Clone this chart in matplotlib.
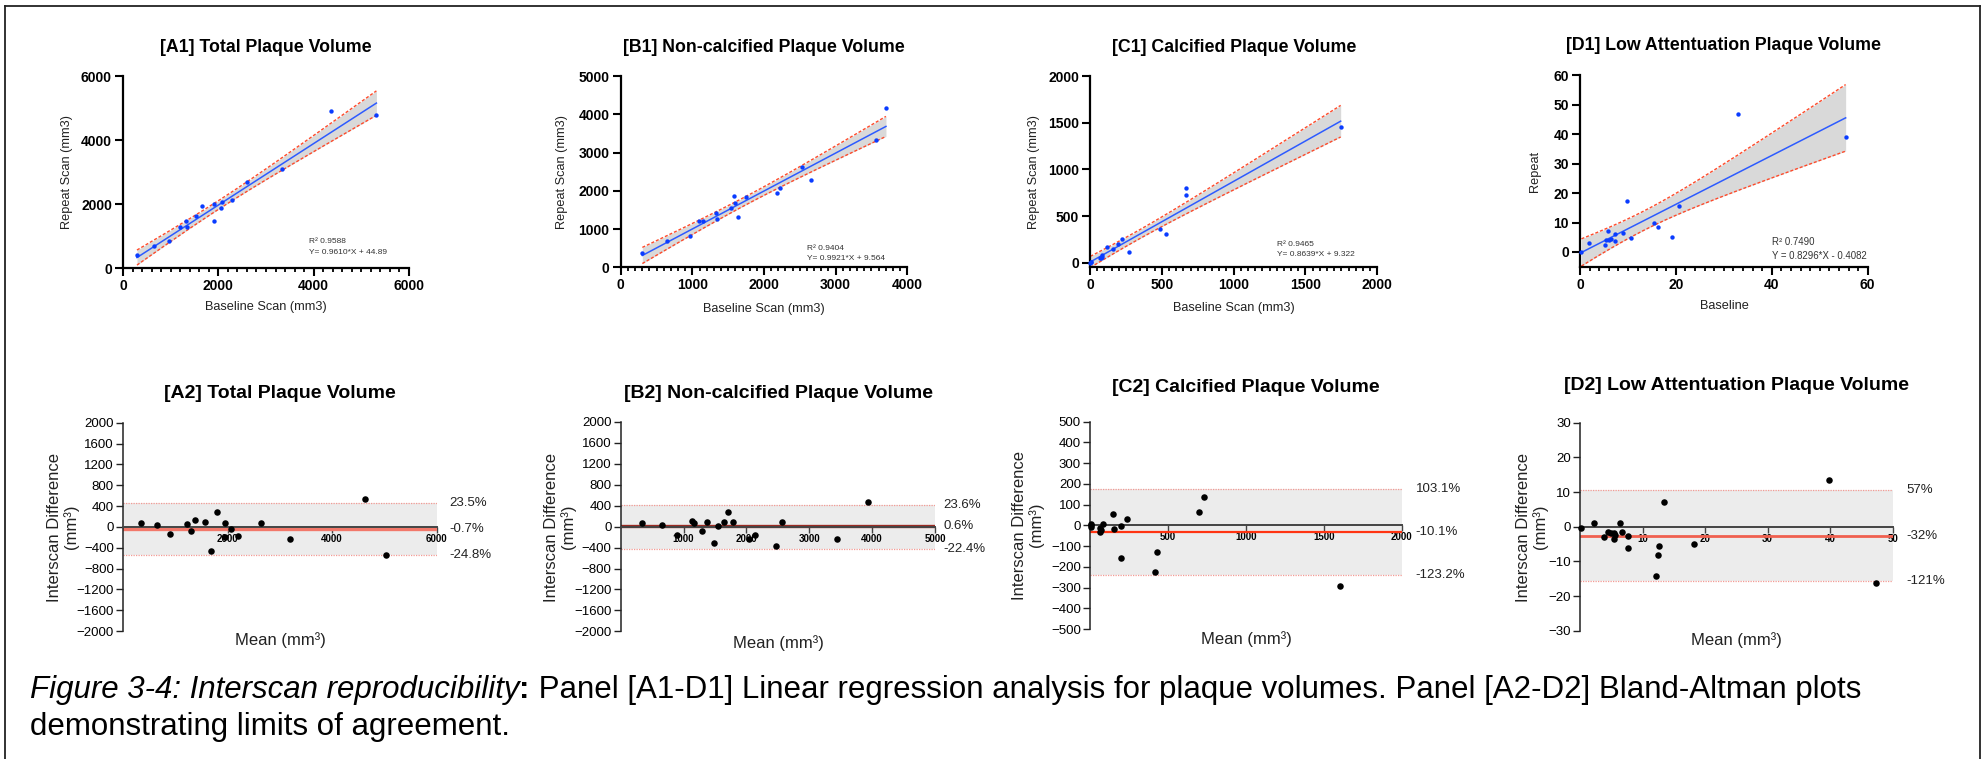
import matplotlib.pyplot as plt
import matplotlib.transforms as mtransforms
from matplotlib.lines import Line2D
import numpy as np

plt.rcParams['font.family'] = ['Liberation Sans', 'DejaVu Sans']

# ---- values ----
# [A1] total plaque volume (mm3)
a1_base = [293, 642, 970, 1200, 1312, 1340, 1528, 1653, 1905, 1905, 2065, 2079, 2295, 2602, 3328, 4361, 5316]
a1_repeat = [396, 688, 845, 1283, 1471, 1283, 1627, 1950, 2003, 1471, 1877, 2065, 2117, 2691, 3087, 4913, 4777]
# [B1] non-calcified plaque volume
b1_base = [302, 647, 967, 1093, 1149, 1330, 1344, 1540, 1581, 1591, 1637, 1753, 2186, 2223, 2525, 2660, 3567, 3702]
b1_repeat = [366, 679, 819, 1202, 1220, 1429, 1272, 1559, 1855, 1690, 1324, 1838, 1951, 2065, 2622, 2282, 3319, 4173]
# [C1] calcified plaque volume
c1_base = [3, 5, 8, 72, 77, 81, 85, 118, 162, 197, 225, 274, 490, 527, 666, 666, 1745]
c1_repeat = [2, 7, 12, 50, 57, 86, 60, 171, 150, 200, 257, 118, 367, 307, 802, 731, 1455]
# [D1] low attenuation plaque volume
d1_base = [0.3, 1.9, 5.3, 5.4, 5.9, 6.0, 6.5, 7.2, 7.4, 9.0, 9.9, 10.6, 15.4, 16.3, 19.2, 20.7, 33.0, 55.4]
d1_repeat = [0.1, 3.2, 2.4, 4.0, 7.1, 4.2, 4.5, 3.7, 6.0, 6.3, 17.2, 4.7, 9.9, 8.5, 5.1, 15.7, 46.7, 39.2]

# regression results printed on the panels
reg_slope = [0.9610, 0.9921, 0.8639, 0.8296]
reg_icpt = [44.89, 9.564, 9.322, -0.4082]
reg_r2 = ['R² 0.9588', 'R² 0.9404', 'R² 0.9465', 'R² 0.7490']
reg_eq = ['Y= 0.9610*X + 44.89', 'Y= 0.9921*X + 9.564', 'Y= 0.8639*X + 9.322', 'Y = 0.8296*X - 0.4082']

# Bland-Altman: mean vs interscan difference (mm3)
a2_mean = [338, 656, 892, 1229, 1299, 1376, 1573, 1675, 1790, 1943, 1955, 2057, 2197, 2637, 3197, 4624, 5038]
a2_diff = [77, 26, -141, 51, -77, 134, 96, -461, 282, 77, -198, -32, -179, 77, -237, 544, -531]
b2_mean = [334, 657, 891, 1135, 1172, 1299, 1373, 1485, 1548, 1638, 1713, 1792, 2047, 2137, 2471, 2572, 3441, 3934]
b2_diff = [70, 25, -153, 102, 70, -76, 89, -306, 13, 89, 274, 83, -242, -166, -376, 96, -242, 471]
c2_mean = [4, 9, 4, 62, 64, 71, 81, 145, 156, 197, 201, 240, 415, 428, 697, 734, 1602]
c2_diff = [8, 0, -8, -13, -34, -23, 5, 55, -18, -158, -3, 32, -224, -127, 66, 137, -294]
d2_mean = [0.2, 2.3, 3.8, 4.5, 5.0, 5.4, 5.6, 5.5, 6.4, 6.7, 7.6, 7.7, 12.1, 12.4, 12.7, 13.5, 18.2, 39.8, 47.3]
d2_diff = [-0.3, 1.2, -2.9, -1.6, -1.7, -1.9, -2.3, -3.6, 1.1, -1.6, -2.7, -6.0, -14.2, -8.1, -5.5, 7.0, -5.0, 13.6, -16.3]

# bias and limits of agreement (mm3) with their percentage labels
ba_bias = [-32, 10, -34, -2.8]
ba_upper = [454, 408, 174, 10.5]
ba_lower = [-538, -427, -238, -15.8]
ba_labels = [('23.5%', '-0.7%', '-24.8%'), ('23.6%', '0.6%', '-22.4%'),
             ('103.1%', '-10.1%', '-123.2%'), ('57%', '-32%', '-121%')]

T95 = {13: 2.160, 14: 2.145, 15: 2.131, 16: 2.120, 17: 2.110, 18: 2.101, 19: 2.093}

W, H = 1982, 759
fig = plt.figure(figsize=(W / 100, H / 100), dpi=100)


def add_axes(l, t, r, b):
    return fig.add_axes([l / W, 1 - b / H, (r - l) / W, (b - t) / H])


def ftext(x, y, s, **kw):
    return fig.text(x / W, 1 - y / H, s, **kw)


def regression_panel(i, box, x, y, xlim, ylim, xstep, ystep, title, title_xy,
                     xlabel, xlabel_xy, ylabel, ylabel_xy, txt_pos, eq_size):
    ax = add_axes(*box)
    x = np.asarray(x, float)
    y = np.asarray(y, float)
    n = len(x)
    xs = np.linspace(x.min(), x.max(), 200)
    fit = reg_slope[i] * xs + reg_icpt[i]
    # 95% confidence band of the fitted line
    resid = y - (reg_slope[i] * x + reg_icpt[i])
    s = np.sqrt(np.sum(resid ** 2) / (n - 2))
    sxx = np.sum((x - x.mean()) ** 2)
    half = T95[n - 2] * s * np.sqrt(1 / n + (xs - x.mean()) ** 2 / sxx)

    ax.fill_between(xs, fit - half, fit + half, color='#d9d9d9', lw=0, zorder=1)
    ax.plot(xs, fit + half, color='#ff4a2a', ls=(0, (2.2, 1.4)), lw=1.0, zorder=2)
    ax.plot(xs, fit - half, color='#ff4a2a', ls=(0, (2.2, 1.4)), lw=1.0, zorder=2)
    ax.plot(xs, fit, color='#2d5bff', lw=1.1, zorder=3)
    ax.scatter(x, y, s=10, color='#0a3cff', zorder=4, clip_on=False, lw=0)

    ax.set_xlim(*xlim)
    ax.set_ylim(*ylim)
    ax.set_xticks(np.arange(xlim[0], xlim[1] + xstep / 2, xstep))
    ax.set_xticks(np.arange(xlim[0], xlim[1] + xstep / 20, xstep / 10), minor=True)
    ax.set_yticks(np.arange(0, ylim[1] + ystep / 2, ystep))
    for side in ['top', 'right']:
        ax.spines[side].set_visible(False)
    for side in ['left', 'bottom']:
        ax.spines[side].set_linewidth(1.6)
    ax.tick_params(which='major', length=6, width=1.5, pad=2, labelsize=10)
    ax.tick_params(which='minor', length=3, width=1.3)
    for lab in ax.get_xticklabels() + ax.get_yticklabels():
        lab.set_fontweight('bold')

    ax.text(txt_pos[0], txt_pos[1], reg_r2[i], transform=ax.transAxes,
            fontsize=eq_size, color='#333333', va='center')
    ax.text(txt_pos[0], txt_pos[2], reg_eq[i], transform=ax.transAxes,
            fontsize=eq_size, color='#333333', va='center')

    ftext(*title_xy, title, fontsize=12.8, fontweight='bold', ha='center', va='center')
    ftext(*xlabel_xy, xlabel, fontsize=9.2, ha='center', va='center', color='#222222')
    ftext(*ylabel_xy, ylabel, fontsize=9.2, ha='center', va='center', rotation=90,
          color='#222222')
    return ax


def bland_altman_panel(i, box, x, y, xlim, ylim, xticks, ystep, title, title_xy,
                       xlabel_xy, ylabel_xy, label_dx, bias_color, bias_lw):
    ax = add_axes(*box)
    ax.set_xlim(*xlim)
    ax.set_ylim(*ylim)
    ax.fill_between(xlim, ba_lower[i], ba_upper[i], color='#ececec', lw=0, zorder=0)
    ax.axhline(ba_upper[i], color='#f39a94', ls=(0, (1, 1)), lw=0.9, zorder=1)
    ax.axhline(ba_lower[i], color='#f39a94', ls=(0, (1, 1)), lw=0.9, zorder=1)
    ax.axhline(ba_bias[i], color=bias_color, lw=bias_lw, zorder=2)
    ax.scatter(x, y, s=22, color='black', zorder=5, clip_on=False, lw=0)

    ax.spines['top'].set_visible(False)
    ax.spines['right'].set_visible(False)
    ax.spines['bottom'].set_position(('data', 0))
    ax.spines['bottom'].set_color('#444444')
    ax.spines['bottom'].set_linewidth(1.4)
    ax.spines['bottom'].set_zorder(3)
    ax.spines['left'].set_color('#222222')
    ax.spines['left'].set_linewidth(1.1)
    ax.set_xticks(xticks)
    ax.set_yticks(np.arange(ylim[0], ylim[1] + ystep / 2, ystep))
    ax.tick_params(axis='x', length=4, width=1.0, pad=1, labelsize=7, color='#444444')
    ax.tick_params(axis='y', length=5, width=1.0, pad=1.5, labelsize=9.5, color='#222222')
    for lab in ax.get_xticklabels():
        lab.set_fontweight('bold')

    trans = mtransforms.blended_transform_factory(ax.transAxes, ax.transData)
    for val, lab in zip([ba_upper[i], ba_bias[i], ba_lower[i]], ba_labels[i]):
        ax.annotate(lab, xy=(1, val), xycoords=trans, xytext=(label_dx * 0.72, 0),
                    textcoords='offset points', va='center', ha='left',
                    fontsize=9.5, color='#222222', annotation_clip=False)

    ftext(*title_xy, title, fontsize=14, fontweight='bold', ha='center', va='center')
    ftext(*xlabel_xy, 'Mean (mm³)', fontsize=12, ha='center', va='center', color='#222222')
    ftext(*ylabel_xy, 'Interscan Difference\n(mm³)', fontsize=12, ha='center',
          va='center', rotation=90, color='#222222', linespacing=1.15)
    return ax


# ---- top row: linear regression ----
regression_panel(0, (123, 76, 409, 268), a1_base, a1_repeat, (0, 6000), (0, 6000), 2000, 2000,
                 '[A1] Total Plaque Volume', (266, 47), 'Baseline Scan (mm3)', (266, 307),
                 'Repeat Scan (mm3)', (67, 172), (0.649, 0.136, 0.083), 6.0)
regression_panel(1, (620.7, 76, 907.3, 267.3), b1_base, b1_repeat, (0, 4000), (0, 5000), 1000, 1000,
                 '[B1] Non-calcified Plaque Volume', (764, 47), 'Baseline Scan (mm3)', (764, 309),
                 'Repeat Scan (mm3)', (562, 172), (0.651, 0.099, 0.045), 6.0)
regression_panel(2, (1090, 76, 1377.3, 267.3), c1_base, c1_repeat, (0, 2000), (-46, 2000), 500, 500,
                 '[C1] Calcified Plaque Volume', (1234, 47), 'Baseline Scan (mm3)', (1234, 308),
                 'Repeat Scan (mm3)', (1034, 172), (0.650, 0.120, 0.066), 6.0)
regression_panel(3, (1580, 75.3, 1867.7, 266.7), d1_base, d1_repeat, (0, 60), (-5, 60), 20, 10,
                 '[D1] Low Attentuation Plaque Volume', (1724, 46), 'Baseline', (1724, 306),
                 'Repeat', (1535, 171), (0.666, 0.131, 0.056), 6.9)

# ---- bottom row: Bland-Altman ----
bland_altman_panel(0, (123, 422.7, 436.7, 631), a2_mean, a2_diff, (0, 6000), (-2000, 2000),
                   [2000, 4000, 6000], 400, '[A2] Total Plaque Volume', (280, 393),
                   (280, 640), (63, 527), 13, '#f2786a', 2.4)
bland_altman_panel(1, (620.7, 422, 935, 631.3), b2_mean, b2_diff, (0, 5000), (-2000, 2000),
                   [1000, 2000, 3000, 4000, 5000], 400, '[B2] Non-calcified Plaque Volume',
                   (778, 394), (778, 643), (560, 527), 8, '#9a2a22', 2.4)
bland_altman_panel(2, (1090, 421.7, 1401.7, 629), c2_mean, c2_diff, (0, 2000), (-500, 500),
                   [500, 1000, 1500, 2000], 100, '[C2] Calcified Plaque Volume', (1246, 388),
                   (1246, 639), (1028, 525), 14, '#ff3412', 1.6)
bland_altman_panel(3, (1580, 422.7, 1892.7, 630.7), d2_mean, d2_diff, (0, 50), (-30, 30),
                   [10, 20, 30, 40, 50], 10, '[D2] Low Attentuation Plaque Volume', (1736, 386),
                   (1736, 640), (1532, 527), 14, '#f0604f', 2.0)

# ---- outer frame ----
for (x0, y0, x1, y1) in [(5, 6, 1980, 6), (5, 6, 5, H), (1980, 6, 1980, H)]:
    fig.add_artist(Line2D([x0 / W, x1 / W], [1 - y0 / H, 1 - y1 / H], color='#222222', lw=1.3,
                          transform=fig.transFigure))

# ---- caption ----
cap_size = 22.5
renderer = fig.canvas.get_renderer()


def caption_line(parts, x_px, y_px):
    x = x_px
    for txt, kw in parts:
        t = ftext(x, y_px, txt, fontsize=cap_size, va='center', ha='left', **kw)
        x = t.get_window_extent(renderer).x1


caption_line([('Figure 3-4: Interscan reproducibility', {'style': 'italic'}),
              (':', {'fontweight': 'bold'}),
              (' Panel [A1-D1] Linear regression analysis for plaque volumes. '
               'Panel [A2-D2] Bland-Altman plots', {})], 30, 690)
caption_line([('demonstrating limits of agreement.', {})], 30, 727)

fig.savefig('out.png', dpi=100)
